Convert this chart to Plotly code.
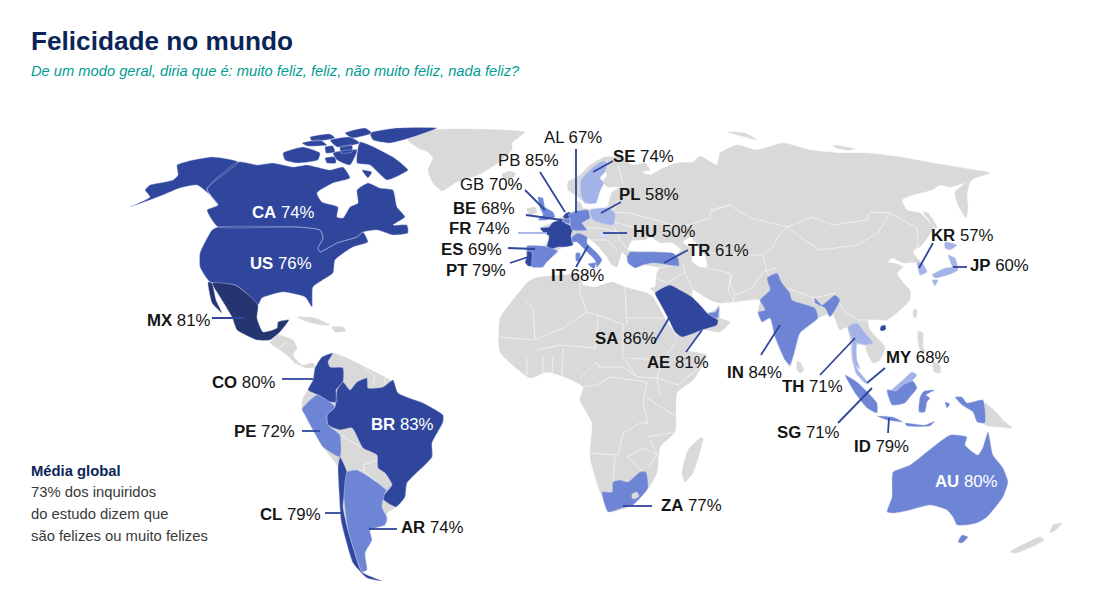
import plotly.graph_objects as go

# ---------- text ----------
TITLE = "Felicidade no mundo"
SUBTITLE = "De um modo geral, diria que é: muito feliz, feliz, não muito feliz, nada feliz?"
NOTE_HEAD = "Média global"
NOTE_LINES = ["73% dos inquiridos", "do estudo dizem que", "são felizes ou muito felizes"]

# ---------- labels ----------
codes  = ["CA","US","MX","CO","PE","BR","CL","AR","ZA","SA","AE","IN","TH","MY","SG","ID","AU","KR","JP","TR","HU","PL","SE","AL","PB","GB","BE","FR","ES","PT","IT"]
values = [74,76,81,80,72,83,79,74,77,86,81,84,71,68,71,79,80,57,60,61,50,58,74,67,85,70,68,74,69,79,68]
lab_x  = [252,250,147,212,234,371,260,401,661,595,647,727,782,886,777,854,935,931,970,688,633,619,613,544,498,460,453,449,441,446,551]
lab_y  = [214,265,322,384,433,426,516,529,507,340,364,374,388,359,434,448,483,237,267,252,233,196,158,139,162,186,210,230,251,272,277]
white_labels = ["CA","US","BR","AU"]
plain_labels = ["AL","PB","GB"]

# ---------- leader lines ----------
leader_codes = ["MX","CO","PE","CL","AR","ZA","SA","AE","IN","TH","MY","SG","ID","KR","JP","TR","HU","PL","SE","AL","PB","GB","BE","FR","ES","PT","IT"]
leader_x0 = [212,282,302,325,397,652,654,686,761,820,885,838,888,933,967,688,627,621,613,576,540,525,526,518,508,510,576]
leader_y0 = [318,379,431,513,529,506,343,352,355,375,368,423,433,243,267,250,233,202,161,149,172,190,215,233,248,263,267]
leader_x1 = [245,313,320,342,369,623,669,702,780,855,867,872,889,919,953,664,603,601,593,576,565,545,562,547,535,528,588]
leader_y1 = [318,379,431,513,529,506,318,330,325,338,383,388,418,268,267,263,233,213,172,213,212,210,220,233,249,257,246]

# ---------- outlines (map units) ----------
GREENLAND = [(408,140),(432,130),(462,129),(505,130),(525,132),(512,143),(512,150),(498,163),(478,175),(455,183),(442,191),(433,183),(428,170),(433,158),(428,152),(418,148)]
ICELAND = [(502,174),(510,171),(516,174),(510,179),(503,178)]
EURASIA = [(605,157),(623,158),(632,165),(645,163),(650,170),(642,172),(650,175),(663,168),(677,163),(693,162),(700,156),(717,165),(720,153),(737,145),(757,150),(783,143),(810,150),(840,153),(867,153),(900,157),(933,163),(963,168),(990,173),(975,178),(970,182),(967,195),(968,208),(966,218),(958,205),(955,192),(965,183),(950,187),(940,185),(932,190),(913,195),(902,200),(907,210),(920,213),(933,227),(928,237),(922,245),(913,252),(917,258),(922,263),(927,272),(920,275),(917,263),(903,263),(892,258),(888,262),(897,264),(903,267),(897,273),(905,285),(910,290),(910,300),(887,320),(868,320),(870,330),(885,347),(880,360),(873,363),(866,350),(865,345),(857,345),(853,360),(865,383),(857,375),(852,360),(850,340),(847,327),(840,330),(833,315),(825,315),(818,318),(800,333),(795,350),(790,367),(785,360),(775,337),(770,318),(762,322),(758,312),(760,300),(733,302),(720,303),(710,300),(693,290),(692,297),(702,307),(708,313),(715,310),(719,305),(720,318),(730,322),(720,332),(702,330),(685,350),(675,332),(668,318),(660,303),(655,293),(650,288),(655,287),(657,272),(660,268),(643,265),(635,268),(627,257),(622,252),(620,258),(617,267),(612,265),(607,257),(597,245),(588,238),(587,243),(597,253),(602,260),(597,267),(595,260),(585,250),(577,242),(572,243),(558,250),(552,257),(546,263),(543,267),(532,267),(527,265),(527,246),(543,246),(549,240),(547,235),(540,228),(552,223),(560,218),(568,213),(577,210),(575,200),(581,203),(583,208),(590,209),(607,207),(610,198),(612,192),(620,187),(608,187),(603,182),(607,175),(603,168),(597,178),(602,182),(597,190),(595,203),(585,203),(577,196),(568,190),(568,182),(580,175),(590,165)]
NOVAYA = [(728,132),(745,133),(757,140),(745,137)]
SEVERNAYA = [(833,145),(855,149),(848,150),(836,148)]
SAKHALIN = [(923,212),(928,213),(937,227),(935,229),(929,220)]
TAIWAN = [(914,309),(917,310),(916,318),(913,316)]
SRILANKA = [(797,362),(800,362),(804,370),(800,373),(797,370)]
LUZON = [(918,331),(923,333),(923,347),(926,352),(920,350),(918,340)]
MINDANAO = [(933,362),(940,365),(940,373),(934,372)]
PNG = [(985,403),(997,413),(1003,420),(1012,428),(1000,427),(985,425)]
NZ_N = [(1053,525),(1062,523),(1056,530),(1050,533)]
NZ_S = [(1040,537),(1044,540),(1017,553),(1010,552)]
AFRICA = [(535,278),(580,275),(583,285),(595,287),(612,282),(625,287),(647,293),(653,297),(662,313),(677,337),(685,350),(707,355),(693,380),(677,393),(675,432),(660,447),(657,473),(647,490),(633,505),(610,512),(605,500),(600,492),(590,457),(592,423),(580,400),(583,387),(567,378),(547,372),(530,378),(500,352),(500,318),(513,300),(528,282)]
MADAGASCAR = [(700,438),(703,438),(693,473),(685,482),(682,473),(688,450)]
IRELAND = [(527,209),(535,207),(537,212),(530,215)]
CUBA = [(297,317),(315,318),(330,325),(322,325),(308,322)]
HISPANIOLA = [(332,327),(343,327),(346,331),(335,332)]
CENTRAL_AM = [(270,343),(278,335),(293,340),(297,348),(293,355),(302,365),(313,363),(315,367),(307,368),(295,363),(287,355),(277,348)]
S_AMERICA = [(315,368),(322,357),(333,353),(347,358),(365,367),(393,382),(398,393),(423,403),(443,415),(443,422),(432,443),(432,457),(407,483),(405,497),(395,508),(387,513),(387,522),(370,530),(362,572),(345,537),(341,520),(339,490),(338,467),(323,447),(313,430),(302,409),(303,398),(308,390),(313,380)]
BLACK_SEA = [(628,250),(632,241),(645,240),(650,237),(660,243),(672,243),(681,250),(676,254),(653,251),(632,251)]
CASPIAN = [(683,242),(692,237),(693,250),(692,261),(700,267),(707,267),(705,256),(698,248),(695,241),(690,247)]

ALASKA = [(130,207),(150,197),(145,190),(150,185),(165,182),(173,180),(178,175),(177,165),(193,160),(213,157),(238,162),(207,189),(218,205),(210,195),(197,185),(180,188),(163,195),(150,200)]
CANADA = [(238,162),(257,165),(273,163),(293,167),(307,165),(330,170),(343,167),(350,178),(333,183),(317,193),(322,202),(338,207),(337,217),(343,218),(350,207),(358,203),(357,190),(368,183),(380,188),(393,190),(397,207),(405,217),(393,225),(407,225),(408,233),(393,235),(377,230),(363,232),(357,237),(337,243),(320,252),(318,248),(323,238),(320,230),(297,227),(218,227),(212,220),(207,210),(218,205),(207,189)]
BAFFIN = [(360,142),(393,157),(408,170),(400,175),(387,180),(370,165),(357,163)]
VICTORIA = [(283,153),(303,147),(320,153),(318,160),(297,163),(285,160)]
BANKS = [(302,143),(320,140),(327,145),(307,146)]
ELLESMERE = [(370,133),(397,128),(437,128),(413,137),(390,143),(373,140)]
DEVON = [(330,140),(350,137),(360,143),(337,147)]
MELVILLE = [(333,153),(357,150),(350,165),(337,160)]
KING_WILLIAM = [(325,158),(335,157),(336,163),(327,163)]
SOMERSET = [(340,147),(352,145),(352,152),(341,153)]
PRINCE_WALES = [(325,147),(333,146),(335,152),(326,153)]
MELVILLE_I = [(310,137),(330,134),(335,138),(312,141)]
AXEL = [(345,133),(365,128),(372,133),(352,138)]
SOUTHAMPTON = [(362,170),(372,172),(368,178)]
USA = [(218,227),(297,227),(320,230),(323,238),(318,248),(320,252),(337,243),(357,237),(363,232),(368,242),(353,247),(335,260),(333,273),(313,287),(312,307),(305,297),(283,292),(262,298),(258,305),(245,292),(235,285),(210,282),(200,267),(200,253),(212,230)]
MEXICO = [(212,283),(235,285),(245,292),(258,305),(257,318),(263,332),(277,328),(278,322),(289,320),(280,332),(270,340),(257,340),(237,330),(232,317),(220,297)]
BAJA = [(208,282),(212,283),(216,300),(222,313),(212,303)]
COLOMBIA = [(315,368),(322,357),(333,353),(328,362),(330,367),(343,368),(343,382),(336,390),(337,402),(330,402),(318,395),(308,390),(313,380)]
BRAZIL = [(343,382),(350,390),(357,382),(367,378),(368,388),(383,387),(393,380),(398,393),(423,403),(443,415),(443,422),(432,443),(432,457),(407,483),(405,497),(396,507),(382,498),(392,485),(385,473),(378,468),(377,455),(363,448),(352,428),(340,430),(328,425),(327,415),(335,407),(337,390)]
PERU = [(302,409),(317,395),(330,402),(335,407),(327,415),(328,425),(340,435),(340,457),(323,447),(313,430),(305,415)]
CHILE = [(340,457),(347,472),(345,490),(343,507),(348,530),(353,547),(362,572),(382,581),(367,578),(353,563),(345,537),(341,520),(339,490),(338,467)]
ARGENTINA = [(347,472),(357,470),(378,483),(387,490),(392,483),(385,493),(382,507),(387,518),(385,525),(370,530),(372,540),(365,553),(367,570),(362,572),(353,547),(348,530),(344,497)]
FRANCE = [(540,228),(549,227),(552,223),(560,220),(567,224),(573,227),(571,236),(573,245),(565,247),(558,247),(552,249),(547,247),(549,236),(543,232)]
SPAIN = [(527,246),(543,246),(558,251),(552,257),(546,263),(543,267),(532,267),(532,252),(527,251)]
PORTUGAL = [(527,251),(532,251),(532,266),(528,266),(525,262),(527,257)]
UK = [(538,197),(543,198),(545,207),(553,212),(555,217),(547,220),(538,220),(543,215),(540,208)]
NETHERLANDS = [(563,217),(566,213),(570,212),(570,218),(566,219)]
BELGIUM = [(560,219),(566,219),(570,219),(570,224),(564,222)]
GERMANY = [(568,215),(577,211),(588,210),(590,218),(582,223),(587,230),(572,230),(570,224),(570,218)]
POLAND = [(590,210),(607,208),(615,213),(613,225),(593,220)]
HUNGARY = [(598,232),(612,232),(607,237),(598,237)]
ITALY = [(572,237),(578,233),(587,237),(587,243),(597,253),(602,260),(597,267),(595,260),(585,250),(577,242),(572,242)]
SARDINIA = [(576,253),(580,253),(580,261),(576,261)]
SICILY = [(588,264),(596,263),(594,269)]
SWEDEN = [(593,167),(603,161),(607,163),(605,172),(600,178),(604,183),(600,191),(596,203),(585,203),(581,195),(581,180)]
TURKEY = [(627,257),(630,252),(640,252),(653,252),(673,253),(678,258),(679,266),(663,264),(653,263),(643,265),(635,268),(628,263)]
SAUDI = [(655,293),(670,285),(680,290),(692,297),(702,307),(707,313),(718,320),(717,325),(702,330),(682,337),(675,332),(668,318),(660,303)]
UAE = [(708,313),(715,312),(719,307),(718,318),(713,317)]
INDIA = [(777,273),(782,283),(790,293),(792,300),(815,308),(818,318),(800,333),(795,350),(790,365),(785,360),(775,337),(770,318),(762,322),(758,312),(765,310),(760,300),(770,290),(767,278)]
INDIA_NE = [(815,298),(822,305),(835,295),(840,300),(830,317),(825,308),(815,303)]
THAILAND = [(848,327),(857,323),(865,333),(873,343),(865,345),(857,343),(857,360),(860,369),(853,363),(852,340)]
HAINAN = [(881,326),(885,325),(886,329),(883,331),(880,330)]
KOREA = [(917,263),(922,263),(927,272),(920,275),(918,268)]
HONSHU = [(948,255),(955,258),(958,270),(948,275),(935,278),(932,275),(945,268),(952,267)]
HOKKAIDO = [(945,242),(957,245),(950,250),(945,248)]
KYUSHU = [(932,280),(938,280),(935,286)]
SOUTH_AFRICA = [(602,492),(612,492),(613,482),(620,480),(628,482),(640,472),(646,472),(648,488),(633,505),(622,508),(608,512)]
LESOTHO = [(632,494),(637,492),(639,496),(635,499),(632,498)]
MALAY_PEN = [(853,360),(858,370),(868,383),(865,383),(856,373)]
BORNEO_MY = [(892,390),(903,380),(912,372),(917,375),(913,380),(903,385),(896,391)]
SUMATRA = [(845,375),(857,382),(877,403),(877,413),(867,408),(855,393)]
JAVA = [(877,416),(893,417),(903,422),(887,420)]
KALIMANTAN = [(887,390),(893,390),(903,383),(913,381),(917,388),(910,397),(905,403),(892,405)]
SULAWESI = [(920,397),(924,391),(935,390),(926,395),(930,398),(927,402),(925,412),(919,412)]
PAPUA = [(955,397),(962,397),(967,403),(983,400),(985,423),(977,422),(973,412),(962,405)]
LESSER_SUNDA = [(905,423),(925,425),(935,421),(930,426),(907,426)]
MOLUCCAS = [(945,402),(950,404),(947,408)]
AUSTRALIA = [(893,472),(910,465),(923,455),(933,447),(950,435),(967,437),(965,445),(978,455),(983,447),(988,432),(993,455),(1003,468),(1008,482),(1003,497),(987,517),(977,523),(967,525),(957,525),(953,517),(947,510),(930,505),(910,510),(895,513),(887,512),(892,497),(892,482)]
TASMANIA = [(962,535),(968,537),(962,543),(958,542)]

LAND = [GREENLAND,ICELAND,EURASIA,NOVAYA,SEVERNAYA,SAKHALIN,TAIWAN,SRILANKA,LUZON,MINDANAO,PNG,NZ_N,NZ_S,AFRICA,MADAGASCAR,IRELAND,CUBA,HISPANIOLA,CENTRAL_AM,S_AMERICA]
WATER = [BLACK_SEA,CASPIAN]

BORDERS = [
 [(580,276),(580,293),(587,312),(563,328),(535,340),(533,308),(525,300)],
 [(625,287),(627,318),(627,325)], [(627,318),(668,318)], [(587,312),(598,315),(625,325)],
 [(598,315),(597,340),(595,350)], [(500,337),(533,340)], [(537,350),(560,345),(595,348)],
 [(527,358),(527,375)], [(543,357),(543,373)], [(553,357),(552,373)], [(563,348),(562,375)],
 [(580,378),(597,362),(600,367)], [(597,367),(623,367),(637,377),(657,378),(678,385),(700,367)],
 [(623,325),(623,357),(637,377)], [(627,358),(663,360),(677,340)], [(657,378),(663,360)],
 [(582,387),(597,385),(610,377),(647,382),(643,403),(648,423),(640,423),(623,433),(618,455),(588,453)],
 [(647,398),(677,417)], [(657,378),(660,397)], [(647,437),(675,432)], [(650,440),(657,455),(648,467)],
 [(615,457),(613,482)], [(643,448),(627,457),(643,472)], [(643,448),(657,455)],
 [(710,210),(730,205),(750,218),(787,227)],
 [(787,227),(812,217),(833,225),(867,220),(870,212),(890,213),(878,233),(857,245),(820,250),(800,237),(787,227)],
 [(787,227),(778,237),(773,247),(763,255)],
 [(763,255),(767,273),(783,287),(815,298),(835,293),(843,310),(858,320),(868,320)],
 [(890,213),(917,228),(918,245),(913,252)],
 [(710,253),(733,255),(763,255)], [(733,273),(728,290),(737,307)], [(707,268),(730,273),(730,283),(735,295),(752,288),(763,272),(777,268)], [(735,295),(733,302)],
 [(613,212),(632,213),(637,215),(673,225)], [(710,212),(730,205)], [(710,212),(710,218),(687,225),(683,235)],
 [(618,165),(623,183)], [(618,200),(612,215),(615,222),(635,228)], [(613,225),(620,240),(628,250)], [(585,228),(600,228),(618,232)],
 [(590,240),(607,240),(617,250)], [(683,263),(685,272),(693,290)], [(657,268),(677,265)], [(657,278),(667,283),(685,272)],
 [(365,368),(375,377),(373,385)], [(385,375),(385,385)], [(363,465),(377,460)], [(363,465),(365,470),(347,472)], [(340,435),(363,448)], [(378,483),(363,470)],
 [(278,348),(287,342)], [(293,355),(302,352)],
]

COLORS = {
 "dark":"#2F469C", "darker":"#25356F", "mid":"#6E85D5", "light":"#A3B3E8", "pale":"#D5DCF5",
}
GROUPS = [
 ("dark",[ALASKA,CANADA,BAFFIN,VICTORIA,BANKS,ELLESMERE,DEVON,MELVILLE,KING_WILLIAM,SOMERSET,PRINCE_WALES,MELVILLE_I,AXEL,SOUTHAMPTON,USA,COLOMBIA,BRAZIL,CHILE,FRANCE,PORTUGAL,NETHERLANDS,SAUDI,HAINAN]),
 ("darker",[MEXICO,BAJA]),
 ("mid",[PERU,ARGENTINA,SPAIN,UK,BELGIUM,GERMANY,ITALY,SARDINIA,SICILY,TURKEY,UAE,INDIA,INDIA_NE,SOUTH_AFRICA,SUMATRA,JAVA,KALIMANTAN,SULAWESI,PAPUA,LESSER_SUNDA,MOLUCCAS,AUSTRALIA,TASMANIA]),
 ("light",[POLAND,SWEDEN,THAILAND,KOREA,HONSHU,HOKKAIDO,KYUSHU,MALAY_PEN,BORNEO_MY]),
 ("pale",[HUNGARY]),
]
GRAY = "#D9D9D9"
BORDER = "#F4F4F4"
LINE = "#2F469C"
FRANCE_LINE = "#A3B3E8"
NAVY = "#0B2559"
TEAL = "#009C94"
SANS = "Liberation Sans"

def rings(polys):
    xs, ys = [], []
    for poly in polys:
        xs += [p[0] for p in poly] + [poly[0][0], None]
        ys += [p[1] for p in poly] + [poly[0][1], None]
    return xs, ys

def paths(polys):
    xs, ys = [], []
    for poly in polys:
        xs += [p[0] for p in poly] + [None]
        ys += [p[1] for p in poly] + [None]
    return xs, ys

fig = go.Figure()
def area(polys, fill, line, width=0.6):
    xs, ys = rings(polys)
    fig.add_trace(go.Scatter(x=xs, y=ys, mode="lines", fill="toself", fillcolor=fill,
                             line=dict(color=line, width=width, shape="spline", smoothing=0.5),
                             hoverinfo="skip", showlegend=False))

area(LAND, GRAY, GRAY, 0.3)
area(WATER, "#FFFFFF", "#FFFFFF", 0.3)
bx, by = paths(BORDERS)
fig.add_trace(go.Scatter(x=bx, y=by, mode="lines", line=dict(color=BORDER, width=0.8), hoverinfo="skip", showlegend=False))
for name, polys in GROUPS:
    area(polys, COLORS[name], "#C9D1EE", 0.4)
area([LESOTHO], GRAY, GRAY, 0.3)

for c, x0, y0, x1, y1 in zip(leader_codes, leader_x0, leader_y0, leader_x1, leader_y1):
    fig.add_trace(go.Scatter(x=[x0, x1], y=[y0, y1], mode="lines",
                             line=dict(color=FRANCE_LINE if c == "FR" else LINE, width=1.8),
                             hoverinfo="skip", showlegend=False))

texts = [(f"{c} {v}%" if c in plain_labels else f"<b>{c}</b> {v}%") for c, v in zip(codes, values)]
fig.add_trace(go.Scatter(x=lab_x, y=lab_y, mode="text", text=texts, textposition="middle right",
                         textfont=dict(family=SANS, size=16.8,
                                       color=["#FFFFFF" if c in white_labels else "#151515" for c in codes]),
                         hoverinfo="skip", showlegend=False, cliponaxis=False))

def note(x, y, text, size, color, family=SANS):
    fig.add_annotation(x=x, y=y, xref="x", yref="y", text=text, showarrow=False, xanchor="left", yanchor="middle",
                       xshift=-2, font=dict(family=family, size=size, color=color))

note(31, 41, f"<b>{TITLE}</b>", 26.2, NAVY)
note(31, 71, f"<i>{SUBTITLE}</i>", 14.7, TEAL)
note(31, 471, f"<b>{NOTE_HEAD}</b>", 14.8, NAVY)
for y, t in zip([492, 514, 536], NOTE_LINES):
    note(31, y, t, 14.8, "#3A3A3A")

fig.update_layout(width=1119, height=600, margin=dict(l=0, r=0, t=0, b=0),
                  paper_bgcolor="white", plot_bgcolor="white", showlegend=False,
                  xaxis=dict(range=[0, 1119], visible=False, fixedrange=True),
                  yaxis=dict(range=[600, 0], visible=False, fixedrange=True))
fig.write_html("out.html", config={"displayModeBar": False}, post_script="document.body.style.margin='0';")
